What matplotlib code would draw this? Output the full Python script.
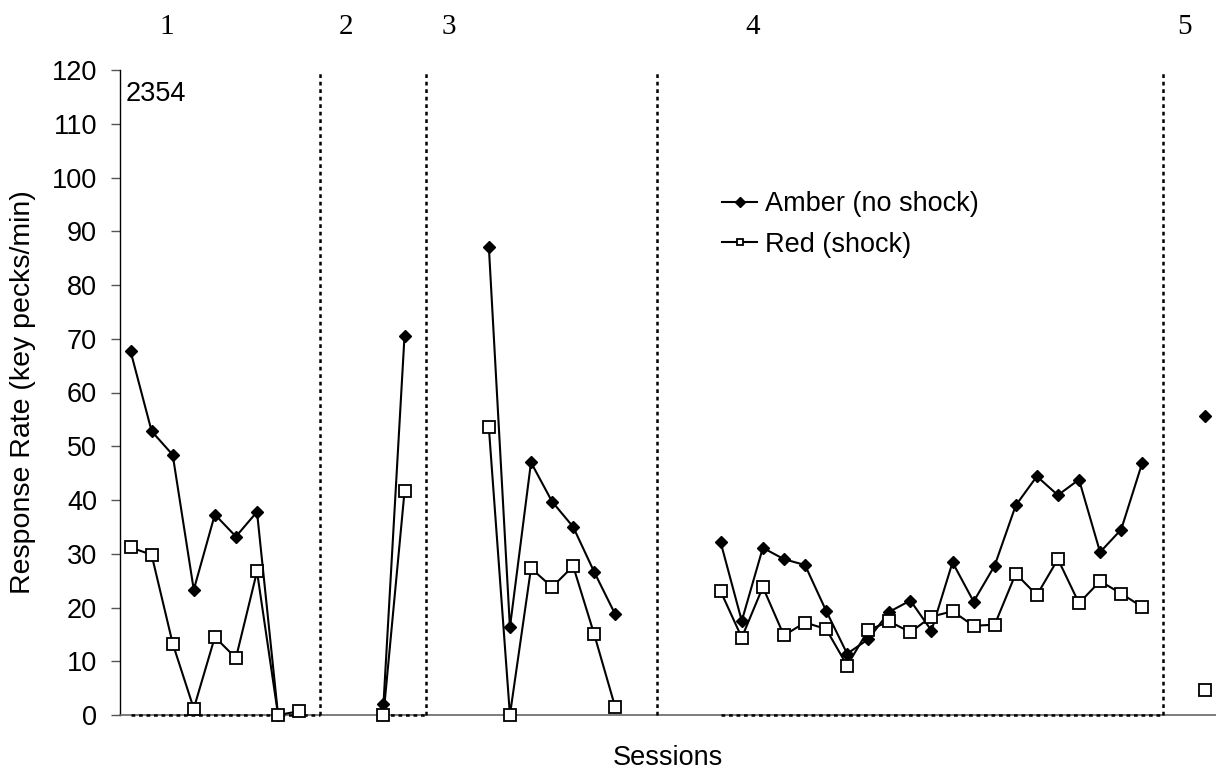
import numpy as np
import matplotlib
matplotlib.use("Agg")
import matplotlib.pyplot as plt

# ---- data ----
amber_sessions_p1 = [1, 2, 3, 4, 5, 6, 7, 8]
amber_p1 = [67.7, 52.8, 48.4, 23.3, 37.3, 33.2, 37.8, 0.0]
red_sessions_p1 = [1, 2, 3, 4, 5, 6, 7, 8, 9]
red_p1 = [31.2, 29.8, 13.3, 1.2, 14.5, 10.6, 26.7, 0.0, 0.7]

sessions_p2 = [13, 14]
amber_p2 = [2.0, 70.6]
red_p2 = [0.0, 41.6]

sessions_p3 = [18, 19, 20, 21, 22, 23, 24]
amber_p3 = [87.1, 16.3, 47.0, 39.7, 35.0, 26.6, 18.7]
red_p3 = [53.5, 0.0, 27.3, 23.8, 27.7, 15.0, 1.4]

sessions_p4 = list(range(29, 50))
amber_p4 = [32.1, 17.5, 31.1, 29.0, 27.9, 19.4, 11.4, 14.1, 19.2, 21.3, 15.7,
            28.4, 21.1, 27.8, 39.0, 44.4, 40.9, 43.8, 30.3, 34.5, 46.9]
red_p4 = [23.0, 14.4, 23.8, 14.8, 17.2, 16.0, 9.2, 15.8, 17.4, 15.4, 18.3,
          19.3, 16.6, 16.8, 26.3, 22.3, 29.0, 20.8, 24.9, 22.6, 20.1]

sessions_p5 = [52]
amber_p5 = [55.7]
red_p5 = [4.6]

phase_lines = [10, 15, 26, 50]
phase_labels = ["1", "2", "3", "4", "5"]
phase_label_x = [2.7, 11.2, 16.1, 30.5, 51.0]
baseline_spans = [(1, 10), (13, 15), (29, 50)]

plt.rcParams['font.family'] = ['Liberation Sans', 'DejaVu Sans']
FS = 19.5

fig = plt.figure(figsize=(12.16, 7.74), dpi=100)
ax = fig.add_axes([120/1216, 59/774, 1096/1216, 645/774])

# dotted baselines
for a, b in baseline_spans:
    ax.plot([a, b], [0, 0], color='black', lw=1.8, ls=(0, (1.5, 1.5)), zorder=3, clip_on=False)

# phase lines
for p in phase_lines:
    ax.plot([p, p], [0, 120], color='black', lw=1.8, ls=(0, (1.5, 1.5)), zorder=3, clip_on=False)

amber_kw = dict(color='black', lw=1.5, marker='D', markersize=6.5, markerfacecolor='black',
                markeredgecolor='black', zorder=4, clip_on=False)
red_kw = dict(color='black', lw=1.5, marker='s', markersize=8, markerfacecolor='white',
              markeredgecolor='black', markeredgewidth=1.3, zorder=5, clip_on=False)

la = None
lr = None
for s, v in [(amber_sessions_p1, amber_p1), (sessions_p2, amber_p2), (sessions_p3, amber_p3),
             (sessions_p4, amber_p4), (sessions_p5, amber_p5)]:
    la, = ax.plot(s, v, **amber_kw)
for s, v in [(red_sessions_p1, red_p1), (sessions_p2, red_p2), (sessions_p3, red_p3),
             (sessions_p4, red_p4), (sessions_p5, red_p5)]:
    lr, = ax.plot(s, v, **red_kw)

ax.set_xlim(0.5, 52.5)
ax.set_ylim(0, 120)
ax.set_yticks(np.arange(0, 121, 10))
ax.set_xticks([])
ax.tick_params(axis='y', direction='out', length=6.5, width=1, color='#555555',
               labelsize=FS, pad=10)
for sp in ['top', 'right']:
    ax.spines[sp].set_visible(False)
ax.spines['left'].set_color('black')
ax.spines['bottom'].set_color('#666666')
ax.spines['bottom'].set_linewidth(1.2)
ax.spines['left'].set_linewidth(1.0)

ax.set_ylabel("Response Rate (key pecks/min)", fontsize=20.5)
ax.yaxis.set_label_coords((23 - 120) / 1096, 0.5)
ax.set_xlabel("Sessions", fontsize=FS)
ax.xaxis.set_label_coords(0.5, (715 - 758) / 645)
ax.xaxis.label.set_va('center')
ax.yaxis.label.set_va('center')

ax.text(0.75, 115.6, "2354", fontsize=FS, va='center', ha='left')

for lab, x in zip(phase_labels, phase_label_x):
    ax.text(x, 128, lab, fontsize=21, ha='center', va='center', family='Liberation Serif',
            clip_on=False)

leg = ax.legend([la, lr], ["Amber (no shock)", "Red (shock)"], loc='upper left',
                bbox_to_anchor=(722/1216, 1 - 191/774), bbox_transform=fig.transFigure,
                frameon=False, fontsize=FS, handlelength=1.3, handletextpad=0.3,
                labelspacing=0.55, borderaxespad=0, borderpad=0)
for h in leg.legend_handles:
    h.set_markersize(5)

fig.savefig("out.png", dpi=100)
